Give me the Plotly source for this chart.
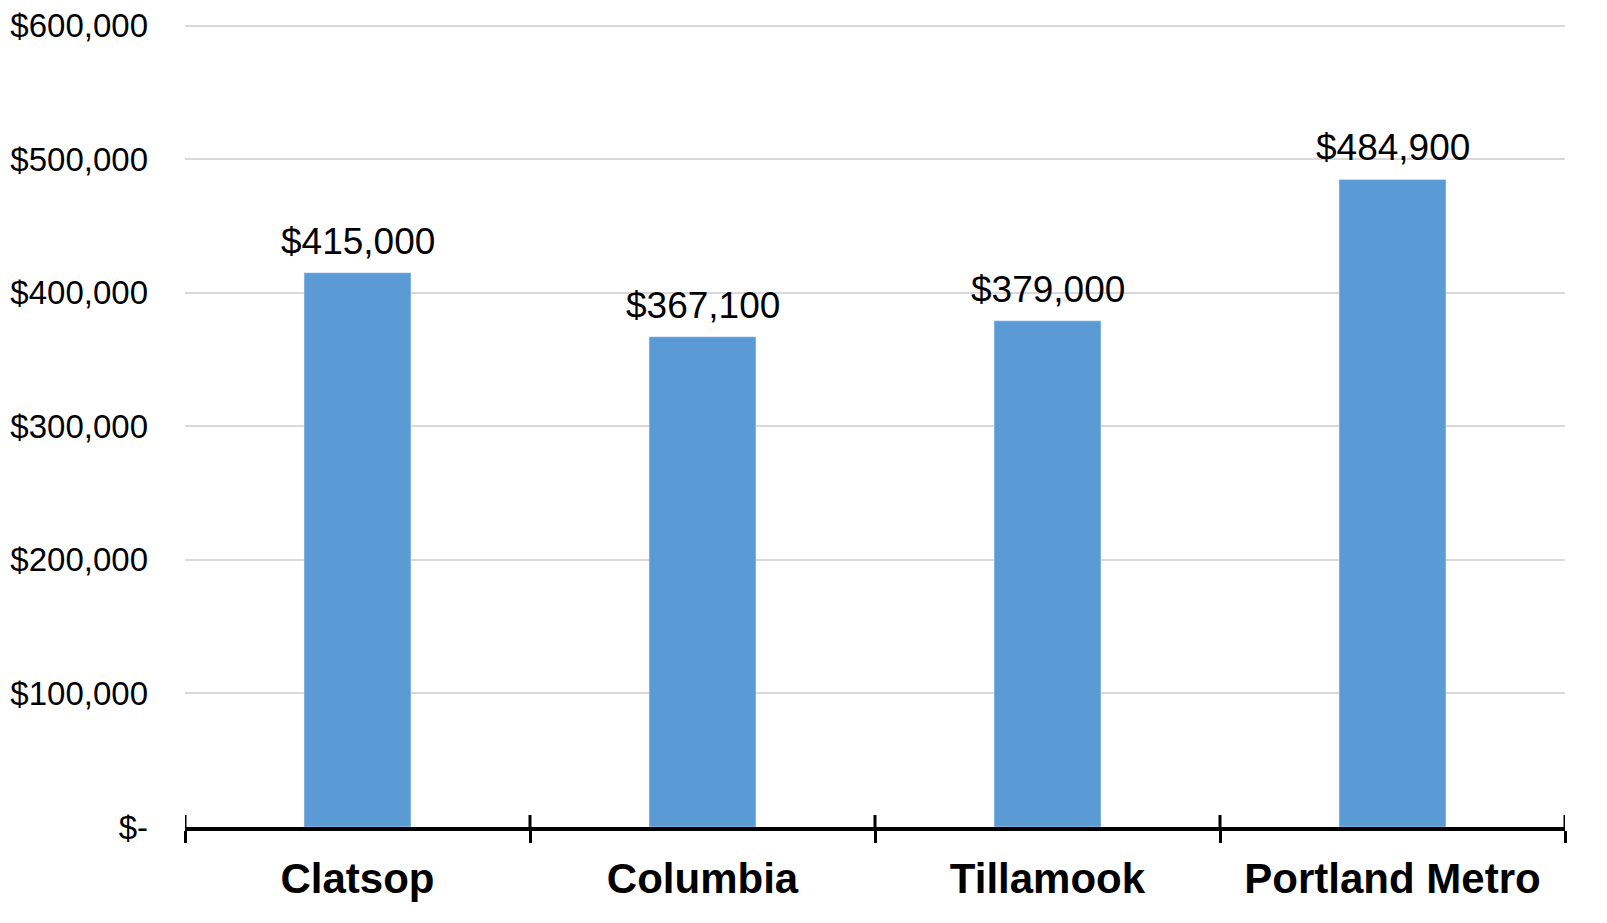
import plotly.graph_objects as go

# Median home values by area
areas = ["Clatsop", "Columbia", "Tillamook", "Portland Metro"]
values = [415000, 367100, 379000, 484900]

y_ticks = [0, 100000, 200000, 300000, 400000, 500000, 600000]
y_tick_text = ["$-", "$100,000", "$200,000", "$300,000", "$400,000", "$500,000", "$600,000"]

fig = go.Figure(go.Bar(
    x=areas, y=values,
    marker_color="#5B9BD5",
    cliponaxis=False,
))

# value labels above the bars
for a, v in zip(areas, values):
    fig.add_annotation(x=a, y=v, text="${:,.0f}".format(v), showarrow=False,
                       yanchor="bottom", yshift=9,
                       font=dict(size=37, color="black"))

# upper half of the category boundary ticks (crossing the axis line)
for i in range(len(areas) + 1):
    fig.add_shape(type="line", xref="x", yref="y", ysizemode="pixel", yanchor=0,
                  x0=i - 0.5, x1=i - 0.5, y0=0, y1=12,
                  line=dict(color="black", width=3))

# page body has an 8px margin, so margins are shifted to compensate
fig.update_layout(
    width=1607, height=923,
    margin=dict(l=177, r=50, t=15, b=104),
    plot_bgcolor="white", paper_bgcolor="white",
    font=dict(family="Liberation Sans, Arial", color="black"),
    bargap=0.69,
    showlegend=False,
)
fig.update_xaxes(
    showline=True, linecolor="black", linewidth=3.5,
    ticks="outside", tickson="boundaries", ticklen=12, tickwidth=3, tickcolor="black",
    tickfont=dict(size=42, family="Liberation Sans, Arial", weight="bold"),
    range=[-0.5, 3.5], automargin=False, ticklabelstandoff=12,
)
fig.update_yaxes(
    range=[0, 602000], tickvals=y_ticks, ticktext=y_tick_text,
    tickfont=dict(size=33), showgrid=True, gridcolor="#d9d9d9", gridwidth=1.5,
    zeroline=False, ticklabelstandoff=36, automargin=False, ticklabeloverflow="allow",
)

fig.write_html("out.html")
